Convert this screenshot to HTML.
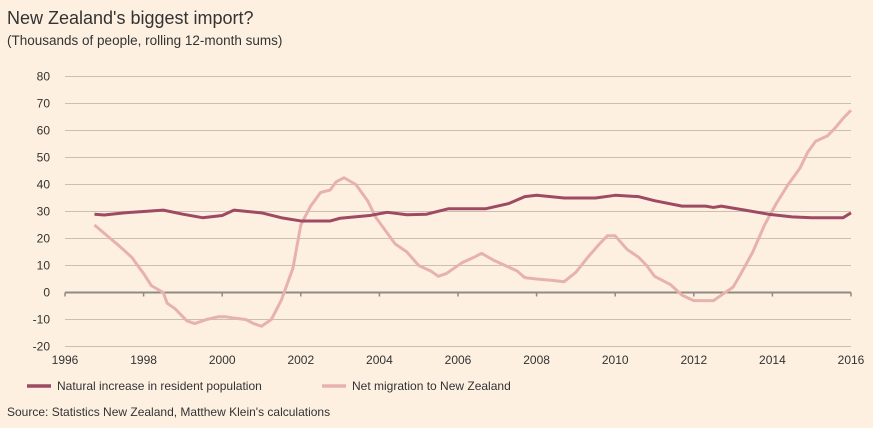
<!DOCTYPE html>
<html><head><meta charset="utf-8"><style>
body{margin:0;background:#fdf0e1;font-family:"Liberation Sans",sans-serif;}
svg{display:block}
</style></head><body>
<svg width="873" height="428" xmlns="http://www.w3.org/2000/svg">
<rect width="873" height="428" fill="#fdf0e1"/>
<text x="7" y="24" font-size="18" fill="#333">New Zealand's biggest import?</text>
<text x="7" y="45" font-size="13.5" fill="#333">(Thousands of people, rolling 12-month sums)</text>
<g id="grid"></g><g id="lines"></g>
<line x1="27" y1="386" x2="51" y2="386" stroke="#9e4a63" stroke-width="3.5"/>
<text x="57" y="390" font-size="12" fill="#333">Natural increase in resident population</text>
<line x1="322" y1="386" x2="346" y2="386" stroke="#e7b2ae" stroke-width="3.5"/>
<text x="352" y="390" font-size="12" fill="#333">Net migration to New Zealand</text>
<text x="7" y="416" font-size="12" fill="#333">Source: Statistics New Zealand, Matthew Klein's calculations</text>
</svg>
<script>
const yTicks=[80,70,60,50,40,30,20,10,0,-10,-20];
const xTicks=[1996,1998,2000,2002,2004,2006,2008,2010,2012,2014,2016];
const natT=[1996.75,1997,1997.5,1998,1998.5,1999,1999.5,2000,2000.3,2001,2001.5,2002,2002.75,2003,2003.75,2004.2,2004.7,2005.2,2005.75,2006.7,2007.3,2007.7,2008,2008.7,2009.5,2010,2010.6,2011,2011.7,2012.3,2012.5,2012.7,2013.3,2013.9,2014.5,2015,2015.8,2016];
const natV=[29,28.7,29.5,30,30.5,29,27.7,28.5,30.5,29.5,27.7,26.5,26.5,27.5,28.5,29.7,28.8,29,31,31,33,35.5,36,35,35,36,35.5,34,32,32,31.5,32,30.5,29,28,27.7,27.7,29.5];
const migT=[1996.75,1997.4,1997.7,1998,1998.2,1998.5,1998.6,1998.8,1999.1,1999.3,1999.6,1999.9,2000.1,2000.3,2000.6,2000.8,2001,2001.25,2001.5,2001.8,2002,2002.25,2002.5,2002.75,2002.9,2003.1,2003.4,2003.7,2003.9,2004.2,2004.4,2004.7,2005,2005.3,2005.5,2005.7,2005.9,2006.1,2006.4,2006.6,2006.9,2007.2,2007.5,2007.7,2008,2008.4,2008.7,2009,2009.3,2009.6,2009.8,2010,2010.3,2010.6,2010.8,2011,2011.4,2011.7,2012,2012.5,2012.7,2013,2013.2,2013.5,2013.8,2014.1,2014.4,2014.7,2014.9,2015.1,2015.4,2015.6,2015.8,2016];
const migV=[25,17,13,7,2.5,0,-4,-6,-10.5,-11.5,-10,-9,-9,-9.5,-10,-11.5,-12.5,-10,-3,9,25,32,37,38,41,42.5,40,34,28,22,18,15,10,8,6,7,9,11,13,14.5,12,10,8,5.5,5,4.5,4,7.5,13,18,21,21,16,13,10,6,3,-1,-3,-3,-1,2,7,15,25,33,40,46,52,56,58,61,64.5,67.5];
const NS="http://www.w3.org/2000/svg";
const X=t=>65+(t-1996)*(851-65)/20;
const Y=v=>292.5-v*2.7;
const grid=document.getElementById('grid'),lines=document.getElementById('lines');
function mk(tag,attrs,parent){const e=document.createElementNS(NS,tag);for(const k in attrs)e.setAttribute(k,attrs[k]);parent.appendChild(e);return e;}
yTicks.forEach(v=>{
  const l=mk('line',{x1:65,x2:851,y1:Y(v),y2:Y(v),stroke:v===0?'#8f8a85':'#cbbfb2','stroke-width':v===0?2:1},grid);
  
  
  const t=mk('text',{x:50,y:Y(v)+4,'font-size':12,fill:'#333','text-anchor':'end'},grid);
  t.textContent=v;
  
  
});
xTicks.forEach(yr=>{
  const l=mk('line',{x1:X(yr),x2:X(yr),y1:Y(0),y2:Y(0)+4,stroke:'#8f8a85','stroke-width':1.5},grid);
  
  
  const t=mk('text',{x:X(yr),y:364,'font-size':12,fill:'#333','text-anchor':'middle'},grid);
  t.textContent=yr;
  
  
});
function line(ts,vs,color,name){
  const p=mk('polyline',{points:ts.map((t,i)=>X(t)+','+Y(vs[i])).join(' '),fill:'none',stroke:color,'stroke-width':3,'stroke-linejoin':'round'},lines);
  
  
}
line(migT,migV,'#e7b2ae','net-migration-line');
line(natT,natV,'#9e4a63','natural-increase-line');
</script>
</body></html>
